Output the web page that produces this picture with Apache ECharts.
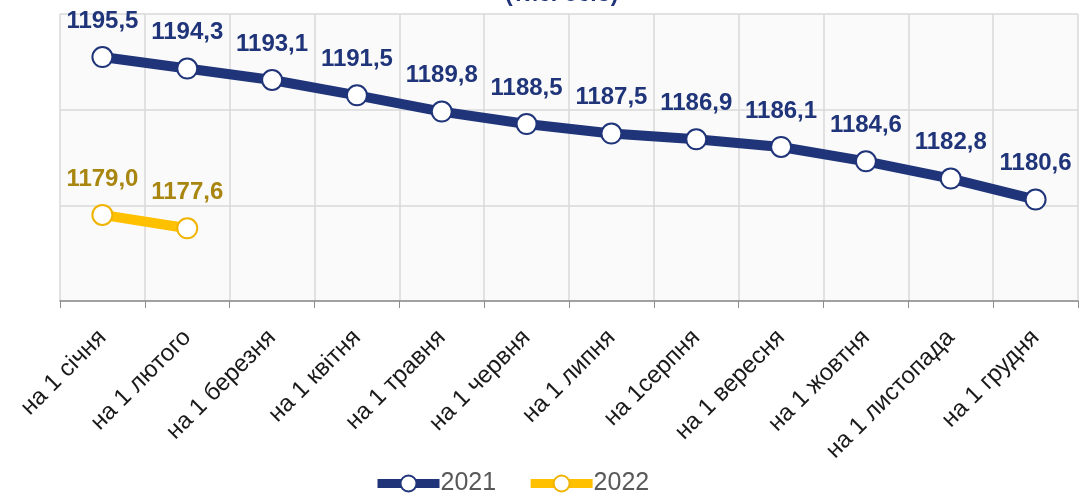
<!DOCTYPE html>
<html><head><meta charset="utf-8">
<script src="https://cdn.jsdelivr.net/npm/echarts@6/dist/echarts.min.js"></script>
<style>html,body{margin:0;padding:0;background:#fff}#c{width:1082px;height:498px}</style>
</head><body><div id="c"></div>
<script>
const categories = ['на 1 січня','на 1 лютого','на 1 березня','на 1 квітня','на 1 травня','на 1 червня','на 1 липня','на 1серпня','на 1 вересня','на 1 жовтня','на 1 листопада','на 1 грудня'];
const values2021 = [1195.5,1194.3,1193.1,1191.5,1189.8,1188.5,1187.5,1186.9,1186.1,1184.6,1182.8,1180.6];
const values2022 = [1179.0,1177.6];
const seriesNames = ['2021','2022'];
const fmt = p => p.value.toFixed(1).replace('.', ',');
const chart = echarts.init(document.getElementById('c'));
chart.setOption({
  animation:false,
  title:{text:'(тис. осіб)', left:500, top:-22, textStyle:{color:'#1f3479', fontSize:23, fontWeight:'bold', fontFamily:'Liberation Sans'}},
  grid:{left:60, right:4, top:14, bottom:197, show:true, backgroundColor:'#fafafa', borderWidth:0},
  legend:{top:466, left:368, itemWidth:62, itemHeight:20, itemGap:30,
    lineStyle:{width:9},
    textStyle:{color:'#595959', fontSize:25, fontFamily:'Liberation Sans', padding:[0,0,0,-4]},
    data:seriesNames},
  xAxis:{type:'category', data:categories, boundaryGap:true,
    axisLine:{lineStyle:{color:'#8c8c8c', width:1.5}},
    axisTick:{show:true, length:7, lineStyle:{color:'#8c8c8c'}},
    splitLine:{show:true, lineStyle:{color:'#d9d9d9', width:1.5}},
    axisLabel:{rotate:45, interval:0, margin:33, color:'#1a1a1a', fontSize:24, fontFamily:'Liberation Sans'}},
  yAxis:{type:'value', min:1170, max:1200, interval:10,
    axisLabel:{show:false}, axisLine:{show:false}, axisTick:{show:false},
    splitLine:{lineStyle:{color:'#d9d9d9', width:1.5}}},
  series:[
    {name:'2021', type:'line', data:values2021, symbol:'circle', symbolSize:20,
      lineStyle:{color:'#1f3479', width:10}, itemStyle:{color:'#fff', borderColor:'#1f3479', borderWidth:2},
      label:{show:true, position:'top', distance:13, formatter:fmt, color:'#1f3479', fontSize:24, fontWeight:'bold', fontFamily:'Liberation Sans'}},
    {name:'2022', type:'line', data:values2022, symbol:'circle', symbolSize:20,
      lineStyle:{color:'#ffc000', width:10}, itemStyle:{color:'#fff', borderColor:'#f0b400', borderWidth:2},
      label:{show:true, position:'top', distance:13, formatter:fmt, color:'#a8860f', fontSize:24, fontWeight:'bold', fontFamily:'Liberation Sans'}}
  ]
});
</script></body></html>
